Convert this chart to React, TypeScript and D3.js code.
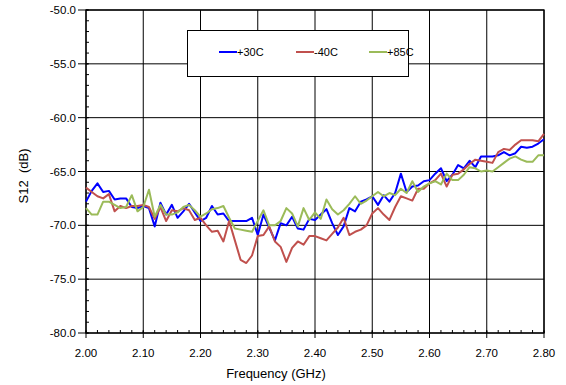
import React from "react";
import * as d3 from "d3";

const freqStart = 2.0;
const freqStep = 0.01;

const s30C = [
  -67.8, -66.8, -66.1, -66.9, -66.8, -67.6, -67.5, -67.5, -68.3, -68.4,
  -68.2, -68.4, -70.1, -67.9, -69.0, -68.1, -69.3, -68.7, -68.0, -68.8,
  -69.6, -69.3, -68.2, -69.0, -68.9, -69.6, -69.6, -69.6, -69.6, -69.3,
  -70.9, -69.0, -70.2, -71.4, -69.8, -70.0, -69.2, -70.3, -70.4, -69.4,
  -69.5, -69.0, -68.5, -69.8, -70.9, -70.1, -68.4, -68.7, -67.8, -67.6,
  -67.3, -68.1, -67.2, -67.8, -67.0, -65.2, -66.9, -66.4, -66.3, -65.9,
  -65.8, -65.2, -64.7, -65.9, -65.3, -64.4, -64.7, -64.0, -64.6, -63.6,
  -63.6, -63.6, -63.5, -63.2, -63.5, -63.3, -62.7, -62.8, -62.7, -62.4,
  -62.0,
];

const sMinus40C = [
  -66.5, -66.9, -67.3, -67.5, -67.1, -68.7, -68.2, -68.4, -68.2, -68.2,
  -68.1, -68.3, -69.4, -68.3, -69.6, -68.6, -68.7, -68.4, -68.6, -69.5,
  -69.3, -70.0, -70.6, -70.5, -71.5, -69.6, -71.4, -73.2, -73.5, -72.8,
  -71.0, -70.9, -70.1, -71.5, -72.0, -73.4, -72.1, -71.5, -71.8, -71.0,
  -71.0, -71.2, -71.4, -70.8, -70.2, -69.3, -70.9, -70.6, -70.4, -70.0,
  -68.9, -68.4, -69.0, -69.5, -68.3, -67.3, -67.5, -67.7, -66.6, -66.6,
  -66.1, -65.8, -65.2, -66.4, -65.3, -65.2, -64.8, -64.3, -63.9, -64.0,
  -64.1, -64.2, -63.2, -62.9, -63.0, -62.5, -62.1, -62.1, -62.1, -62.2,
  -61.5,
];

const s85C = [
  -68.4, -69.0, -69.0, -67.8, -67.8, -68.1, -68.4, -68.3, -67.2, -68.7,
  -68.3, -66.7, -69.2, -68.1, -69.0, -69.0, -68.8, -68.3, -68.1, -68.6,
  -69.2, -68.9, -68.5, -68.4, -68.2, -69.3, -70.3, -70.4, -70.5, -70.6,
  -69.6, -68.6, -70.0, -70.0, -69.6, -68.4, -68.9, -70.1, -68.4, -69.5,
  -68.8, -69.4, -67.6, -68.5, -69.0, -68.6, -68.0, -67.3, -68.0, -67.7,
  -67.3, -66.9, -67.3, -67.0, -67.2, -66.6, -67.0, -65.9, -66.9, -66.4,
  -66.1, -65.9, -66.2, -65.2, -65.8, -65.8, -65.3, -64.6, -64.7, -65.0,
  -64.9, -65.0, -64.6, -64.2, -63.8, -63.6, -63.9, -64.1, -64.1, -63.5,
  -63.5,
];

const seriesNames = ["+30C", "-40C", "+85C"];
const seriesColors = ["#0000FF", "#C0504D", "#9BBB59"];
const seriesData = [s30C, sMinus40C, s85C];

const xTicks = [2.0, 2.1, 2.2, 2.3, 2.4, 2.5, 2.6, 2.7, 2.8];
const yTicks = [-50, -55, -60, -65, -70, -75, -80];
const xMinorTicks = d3.range(0, 41).map((i) => 2.0 + i * 0.02);
const yMinorTicks = d3.range(-80, -49, 1);

const xLabel = "Frequency (GHz)";
const yLabel = "S12  (dB)";

const W = 566;
const H = 385;
const left = 86;
const right = 544;
const top = 10;
const bottom = 333;

export default function App() {
  const x = d3.scaleLinear().domain([2.0, 2.8]).range([left, right]);
  const y = d3.scaleLinear().domain([-80, -50]).range([bottom, top]);
  const line = d3
    .line<number>()
    .x((_, i) => x(freqStart + i * freqStep))
    .y((d) => y(d));
  const font = "'Liberation Sans', Arial, sans-serif";

  const legendX = 187.5;
  const legendY = 30.5;
  const legendW = 221;
  const legendH = 46;
  const legendItemX = [219, 296, 369];

  return (
    <svg
      width={W}
      height={H}
      style={{ position: "absolute", left: 0, top: 0, background: "#fff" }}
      fontFamily={font}
    >
      <rect x={0} y={0} width={W} height={H} fill="#fff" />
      {/* grid */}
      {yTicks.map((t) => (
        <line key={"gy" + t} x1={left} x2={right} y1={y(t)} y2={y(t)} stroke="#000" strokeWidth={1} />
      ))}
      {xTicks.map((t) => (
        <line key={"gx" + t} x1={x(t)} x2={x(t)} y1={top} y2={bottom} stroke="#000" strokeWidth={1} />
      ))}
      {/* minor ticks */}
      {yMinorTicks.map((t) => (
        <line key={"my" + t} x1={left} x2={left + 3} y1={y(t)} y2={y(t)} stroke="#000" />
      ))}
      {xMinorTicks.map((t, i) => (
        <line key={"mx" + i} x1={x(t)} x2={x(t)} y1={bottom} y2={bottom - 3} stroke="#000" />
      ))}
      {/* major ticks */}
      {yTicks.map((t) => (
        <line key={"ty" + t} x1={left - 8} x2={left + 2} y1={y(t)} y2={y(t)} stroke="#000" />
      ))}
      {xTicks.map((t) => (
        <line key={"tx" + t} x1={x(t)} x2={x(t)} y1={bottom - 2} y2={bottom + 5} stroke="#000" />
      ))}
      {/* frame */}
      <rect x={left} y={top} width={right - left} height={bottom - top} fill="none" stroke="#000" strokeWidth={1.3} />
      {/* series */}
      {seriesData.map((s, k) => (
        <path
          key={seriesNames[k]}
          d={line(s) || ""}
          fill="none"
          stroke={seriesColors[k]}
          strokeWidth={2}
          strokeLinejoin="round"
        />
      ))}
      {/* tick labels */}
      {yTicks.map((t) => (
        <text key={"ly" + t} x={left - 10} y={y(t)} dy="0.35em" textAnchor="end" fontSize={11.5} fill="#000">
          {t.toFixed(1)}
        </text>
      ))}
      {xTicks.map((t) => (
        <text key={"lx" + t} x={x(t)} y={353} dy="0.35em" textAnchor="middle" fontSize={11.5} fill="#000">
          {t.toFixed(2)}
        </text>
      ))}
      {/* axis titles */}
      <text x={276} y={373} dy="0.35em" textAnchor="middle" fontSize={13} fill="#000">
        {xLabel}
      </text>
      <text
        transform={`translate(23,176) rotate(-90)`}
        textAnchor="middle"
        dy="0.35em"
        fontSize={13}
        fill="#000"
        style={{ whiteSpace: "pre" }}
      >
        {yLabel}
      </text>
      {/* legend */}
      <rect x={legendX} y={legendY} width={legendW} height={legendH} fill="#fff" stroke="#000" strokeWidth={1} />
      {seriesNames.map((n, k) => (
        <g key={"lg" + n}>
          <line
            x1={legendItemX[k]}
            x2={legendItemX[k] + 18}
            y1={52}
            y2={52}
            stroke={seriesColors[k]}
            strokeWidth={2}
          />
          <text x={legendItemX[k] + 18} y={52} dy="0.35em" fontSize={11} fill="#000">
            {n}
          </text>
        </g>
      ))}
    </svg>
  );
}
